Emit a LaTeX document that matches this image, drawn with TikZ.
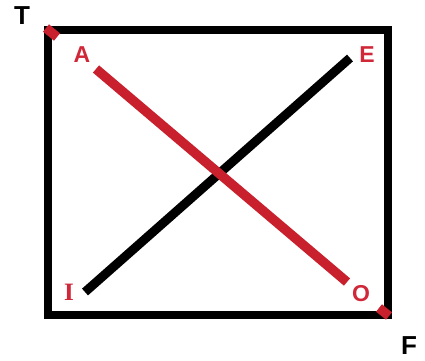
\documentclass[tikz,border=0pt]{standalone}
\usepackage{fontspec}
\setmainfont{Liberation Sans}
\newfontfamily\serifletter{Liberation Serif}
\definecolor{crossred}{RGB}{200,32,44}
\definecolor{labelred}{RGB}{208,40,56}
\tikzset{
  frame/.style={line width=8pt, draw=black},
  blackbar/.style={line width=9pt, draw=black},
  redbar/.style={line width=9.5pt, draw=crossred},
  corner/.style={font=\bfseries\fontsize{26}{26}\selectfont, text=black, inner sep=0pt},
  vowel/.style={font=\bfseries\fontsize{23}{23}\selectfont, text=labelred, inner sep=0pt},
}
\begin{document}
\begin{tikzpicture}[x=1pt,y=-1pt]
\useasboundingbox (0,0) rectangle (425,360);
\fill[white] (0,0) rectangle (425,360);
% frame
\draw[frame] (48,30) rectangle (388,315);
% corner labels
\node[corner] (T) at (22,16) {T};
\node[corner] (F) at (409,346) {F};
% vowel labels
\node[vowel] (A) at (82,55) {A};
\node[vowel] (E) at (367,55) {E};
\node[vowel, font=\bfseries\serifletter\fontsize{25}{25}\selectfont] (I) at (69,292) {I};
\node[vowel] (O) at (361,294) {O};
% line ends
\coordinate (tl) at (46,28);
\coordinate (a1) at (57,37);
\coordinate (a2) at (96,69);
\coordinate (o1) at (347,282);
\coordinate (o2) at (379,308);
\coordinate (br) at (389,316);
\coordinate (i0) at (85,292);
\coordinate (e0) at (350,58);
% black diagonal
\draw[blackbar] (i0) -- (e0);
% red diagonal
\draw[redbar] (tl) -- (a1);
\draw[redbar] (a2) -- (o1);
\draw[redbar] (o2) -- (br);
\end{tikzpicture}
\end{document}
